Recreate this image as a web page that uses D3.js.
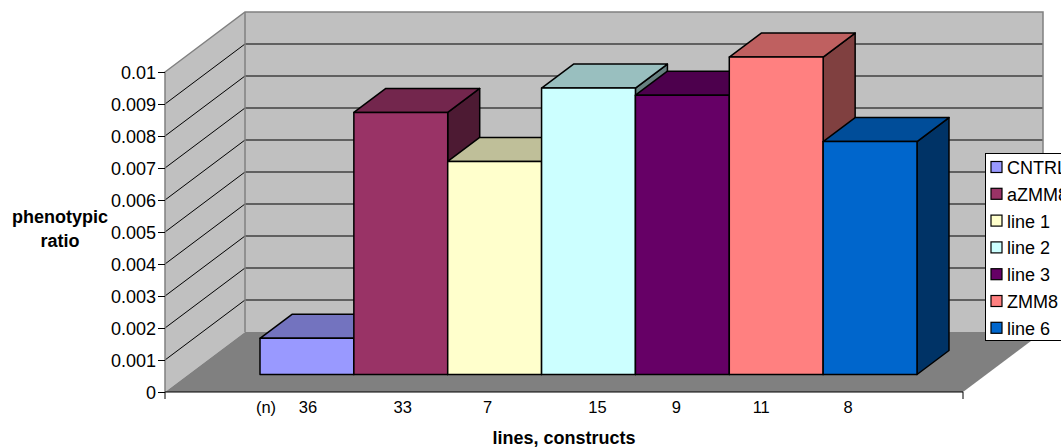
<!DOCTYPE html>
<html>
<head>
<meta charset="utf-8">
<script src="https://cdn.jsdelivr.net/npm/d3@7"></script>
<style>
  html, body { margin: 0; padding: 0; background: #fff; overflow: hidden; }
  text { font-family: "Liberation Sans", Arial, sans-serif; fill: #000; }
</style>
</head>
<body>
<div id="chart"></div>
<script>
const categories = ["CNTRL", "aZMM8", "line 1", "line 2", "line 3", "ZMM8", "line 6"];
const values = [0.00113, 0.00819, 0.00666, 0.00895, 0.00873, 0.00992, 0.00728];
const counts = ["36", "33", "7", "15", "9", "11", "8"];
const colors = ["#9999ff", "#993366", "#ffffcc", "#ccffff", "#660066", "#ff8080", "#0066cc"];
const yTicks = [0, 0.001, 0.002, 0.003, 0.004, 0.005, 0.006, 0.007, 0.008, 0.009, 0.01];

const width = 1061, height = 447;

const svg = d3.select("#chart").append("svg")
  .attr("width", width)
  .attr("height", height)
  .style("display", "block");

// front plane of the box, the walls are this plane pushed back by (80,-60)
const y = d3.scaleLinear().domain([0, 0.01]).range([392, 72]);
const x = d3.scaleBand().domain(categories).range([260, 917]);
const wallDx = 80, wallDy = -60;
const left = 165, right = 963;
const baseDy = -17.5; // bars stand a bit in from the front edge
const barDx = 32, barDy = -24;

const poly = pts => pts.map(p => p.join(",")).join(" ");

function shade(color, k) {
  const c = d3.rgb(color);
  return d3.rgb(c.r * k, c.g * k, c.b * k).formatHex();
}

// walls and floor
svg.append("polygon")
  .attr("points", poly([[left + wallDx, y(0) + wallDy], [right + wallDx, y(0) + wallDy], [right + wallDx, y(0.01) + wallDy], [left + wallDx, y(0.01) + wallDy]]))
  .attr("fill", "#c0c0c0");
svg.append("polygon")
  .attr("points", poly([[left, y(0)], [left + wallDx, y(0) + wallDy], [left + wallDx, y(0.01) + wallDy], [left, y(0.01)]]))
  .attr("fill", "#c0c0c0");

// grid lines run across the side wall and the back wall
svg.append("g").selectAll("polyline")
  .data(yTicks.slice(1, -1))
  .join("polyline")
  .attr("points", d => poly([[left, y(d)], [left + wallDx, y(d) + wallDy], [right + wallDx, y(d) + wallDy]]))
  .attr("fill", "none")
  .attr("stroke", "#000")
  .attr("stroke-width", 1);

// wall outline
svg.append("polyline")
  .attr("points", poly([[left, y(0)], [left, y(0.01)], [left + wallDx, y(0.01) + wallDy], [right + wallDx, y(0.01) + wallDy], [right + wallDx, y(0) + wallDy]]))
  .attr("fill", "none")
  .attr("stroke", "#808080")
  .attr("stroke-width", 1.5);
svg.append("line")
  .attr("x1", left + wallDx).attr("x2", left + wallDx)
  .attr("y1", y(0.01) + wallDy).attr("y2", y(0) + wallDy)
  .attr("stroke", "#808080")
  .attr("stroke-width", 1.5);

svg.append("polygon")
  .attr("points", poly([[left, y(0)], [right, y(0)], [right + wallDx, y(0) + wallDy], [left + wallDx, y(0) + wallDy]]))
  .attr("fill", "#808080");

// bars, left to right so that each one covers the side of the one before
const bars = svg.append("g")
  .attr("stroke", "#000")
  .attr("stroke-width", 1.5)
  .attr("stroke-linejoin", "round")
  .selectAll("g")
  .data(categories.map((c, i) => ({ c, v: values[i], color: colors[i] })))
  .join("g");

const x0 = d => x(d.c);
const x1 = d => x(d.c) + x.bandwidth();
const barBottom = y(0) + baseDy;
const barTop = d => y(d.v) + baseDy;

bars.append("polygon")
  .attr("fill", d => shade(d.color, 0.5))
  .attr("points", d => poly([[x1(d), barTop(d)], [x1(d) + barDx, barTop(d) + barDy], [x1(d) + barDx, barBottom + barDy], [x1(d), barBottom]]));
bars.append("polygon")
  .attr("fill", d => shade(d.color, 0.75))
  .attr("points", d => poly([[x0(d), barTop(d)], [x0(d) + barDx, barTop(d) + barDy], [x1(d) + barDx, barTop(d) + barDy], [x1(d), barTop(d)]]));
bars.append("rect")
  .attr("fill", d => d.color)
  .attr("x", d => x0(d))
  .attr("y", d => barTop(d))
  .attr("width", x.bandwidth())
  .attr("height", d => barBottom - barTop(d));

// y axis
const yAxis = d3.axisLeft(y).tickValues(yTicks).tickFormat(d => String(d)).tickSize(7).tickPadding(2);
const yG = svg.append("g").attr("transform", `translate(${left},0)`).call(yAxis);
yG.select(".domain").remove();
yG.selectAll("line").attr("stroke", "#000");
yG.selectAll("text").attr("font-size", 18).attr("dy", "0.38em");

// x axis line, ticks only at the two ends
svg.append("path")
  .attr("d", `M${left},${y(0) + 7}V${y(0)}H${right}V${y(0) + 7}`)
  .attr("fill", "none")
  .attr("stroke", "#000");

// sample sizes under the bars, hand placed in the source so they drift off the bar centres
const countNudge = [1, 2, -7, 9, -6, -15, -22];
svg.append("text")
  .attr("x", 266).attr("y", 412.5)
  .attr("text-anchor", "middle")
  .attr("font-size", 16.5)
  .text("(n)");
svg.append("g").selectAll("text")
  .data(counts)
  .join("text")
  .attr("x", (d, i) => x(categories[i]) + x.bandwidth() / 2 + countNudge[i])
  .attr("y", 412.5)
  .attr("text-anchor", "middle")
  .attr("font-size", 16.5)
  .text(d => d);

// axis titles
svg.append("text")
  .attr("text-anchor", "middle")
  .attr("font-size", 18)
  .attr("font-weight", "bold")
  .selectAll("tspan")
  .data(["phenotypic", "ratio"])
  .join("tspan")
  .attr("x", 60)
  .attr("y", (d, i) => 223 + i * 23.5)
  .text(d => d);
svg.append("text")
  .attr("x", 564).attr("y", 444)
  .attr("text-anchor", "middle")
  .attr("font-size", 18)
  .attr("font-weight", "bold")
  .text("lines, constructs");

// legend, runs off the right edge as in the source
svg.append("rect")
  .attr("x", 985.5).attr("y", 153.5)
  .attr("width", 90).attr("height", 187)
  .attr("fill", "#fff")
  .attr("stroke", "#000");
const legend = svg.append("g").selectAll("g")
  .data(categories)
  .join("g")
  .attr("transform", (d, i) => `translate(991,${167 + i * 26.8})`);
legend.append("rect")
  .attr("x", 0).attr("y", -5.5)
  .attr("width", 11).attr("height", 11)
  .attr("fill", (d, i) => colors[i])
  .attr("stroke", "#000")
  .attr("stroke-width", 1.2);
legend.append("text")
  .attr("x", 16).attr("y", 7)
  .attr("font-size", 18)
  .text(d => d);
</script>
</body>
</html>
